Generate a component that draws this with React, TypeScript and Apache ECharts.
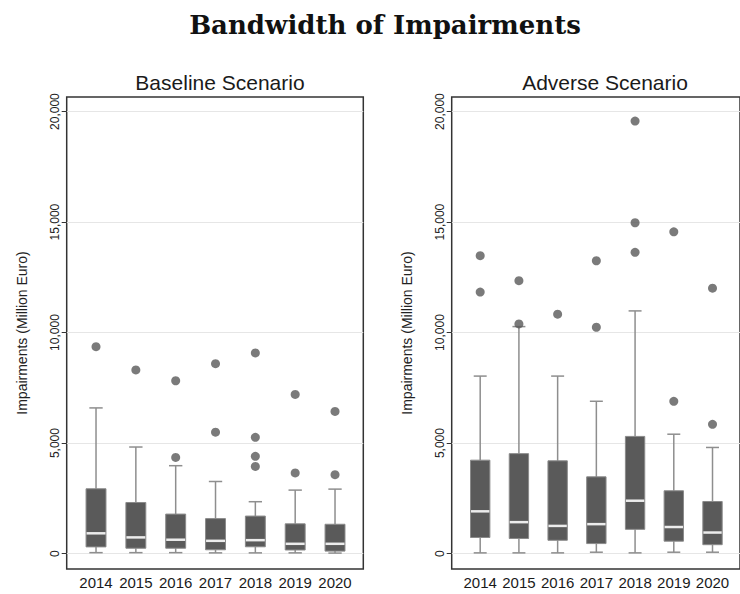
import React, { useEffect, useRef } from "react";
import * as echarts from "echarts";

const years = [2014, 2015, 2016, 2017, 2018, 2019, 2020];
const yTicks = [0, 5000, 10000, 15000, 20000];

// Baseline scenario
const baseLow = [40, 40, 40, 30, 30, 30, 20];
const baseQ1 = [300, 240, 240, 170, 305, 160, 110];
const baseMedian = [915, 730, 625, 575, 605, 440, 440];
const baseQ3 = [2930, 2310, 1785, 1580, 1695, 1345, 1325];
const baseHigh = [6590, 4820, 3975, 3260, 2345, 2870, 2915];
const baseOutliers: number[][] = [
  [9360],
  [8310],
  [7820, 4350],
  [8590, 5490],
  [9080, 5260, 4400, 3940],
  [7200, 3650],
  [6430, 3570],
];

// Adverse scenario
const advLow = [30, 30, 30, 60, 30, 60, 60];
const advQ1 = [725, 680, 600, 450, 1095, 560, 400];
const advMedian = [1910, 1420, 1250, 1330, 2390, 1200, 950];
const advQ3 = [4225, 4520, 4195, 3470, 5300, 2840, 2355];
const advHigh = [8030, 10270, 8030, 6890, 10980, 5400, 4800];
const advOutliers: number[][] = [
  [13480, 11830],
  [12350, 10390],
  [10830],
  [13250, 10240],
  [19570, 14970, 13630],
  [14560, 6890],
  [12010, 5845],
];

const BOX_W = 0.5;
const CAP_W = 0.335;

function boxData(lo: number[], q1: number[], md: number[], q3: number[], hi: number[]) {
  return years.map((y, i) => [y, lo[i], q1[i], md[i], q3[i], hi[i]]);
}
function outlierData(out: number[][]) {
  const res: number[][] = [];
  out.forEach((vals, i) => vals.forEach((v) => res.push([years[i], v])));
  return res;
}

const renderBox = (params: any, api: any) => {
  const x = api.value(0);
  const lo = api.coord([x, api.value(1)]);
  const q1 = api.coord([x, api.value(2)]);
  const md = api.coord([x, api.value(3)]);
  const q3 = api.coord([x, api.value(4)]);
  const hi = api.coord([x, api.value(5)]);
  const bw = api.size([BOX_W, 0])[0];
  const cw = api.size([CAP_W, 0])[0];
  const cx = lo[0];
  const ws = { stroke: "#8e8e8e", lineWidth: 1.5 };
  return {
    type: "group",
    children: [
      { type: "line", shape: { x1: cx, y1: hi[1], x2: cx, y2: q3[1] }, style: ws },
      { type: "line", shape: { x1: cx, y1: q1[1], x2: cx, y2: lo[1] }, style: ws },
      { type: "line", shape: { x1: cx - cw / 2, y1: hi[1], x2: cx + cw / 2, y2: hi[1] }, style: ws },
      { type: "line", shape: { x1: cx - cw / 2, y1: lo[1], x2: cx + cw / 2, y2: lo[1] }, style: ws },
      {
        type: "rect",
        shape: { x: cx - bw / 2, y: q3[1], width: bw, height: q1[1] - q3[1] },
        style: { fill: "#5a5a5a", stroke: "#8a8a8a", lineWidth: 1 },
      },
      {
        type: "line",
        shape: { x1: cx - bw / 2 + 0.5, y1: md[1], x2: cx + bw / 2 - 0.5, y2: md[1] },
        style: { stroke: "#ececec", lineWidth: 2.5 },
      },
    ],
  };
};

const SANS = "'Liberation Sans', Arial, sans-serif";

export default function App() {
  const ref = useRef<HTMLDivElement>(null);
  useEffect(() => {
    document.body.style.margin = "0";
    if (!ref.current) return;
    const chart = echarts.init(ref.current, null, { renderer: "svg" });

    const X_MIN = 2013.264;
    const X_MAX = 2020.71;
    const Y_MIN = -700;
    const Y_MAX = 20660;

    const mkX = (gi: number) => ({
      type: "value",
      gridIndex: gi,
      min: X_MIN,
      max: X_MAX,
      axisLine: { show: false },
      axisTick: { show: false },
      splitLine: { show: false },
      axisLabel: {
        customValues: years,
        formatter: (v: number) => String(Math.round(v)),
        fontFamily: SANS,
        fontSize: 15,
        color: "#1a1a1a",
        margin: 6,
      },
    });
    const mkY = (gi: number) => ({
      type: "value",
      gridIndex: gi,
      min: Y_MIN,
      max: Y_MAX,
      name: "Impairments (Million Euro)",
      nameLocation: "middle",
      nameRotate: 90,
      nameGap: 38,
      nameTextStyle: { fontFamily: SANS, fontSize: 14, color: "#222" },
      axisLine: { show: false },
      axisTick: { show: true, length: 5, customValues: yTicks, lineStyle: { color: "#333", width: 1 } },
      axisLabel: {
        customValues: yTicks,
        rotate: 90,
        margin: 6,
        fontFamily: SANS,
        fontSize: 12,
        color: "#222",
        formatter: (v: number) => v.toLocaleString("en-US"),
      },
      splitLine: { show: true, lineStyle: { color: "#e6e6e6", width: 1 } },
    });

    const option: any = {
      animation: false,
      backgroundColor: "#ffffff",
      title: [
        {
          text: "Bandwidth of Impairments",
          left: 380,
          top: 7,
          textAlign: "center",
          textStyle: { fontFamily: "'DejaVu Serif', serif", fontWeight: "bold", fontSize: 26, color: "#111" },
        },
        {
          text: "Baseline Scenario",
          left: 215,
          top: 67,
          textAlign: "center",
          textStyle: { fontFamily: SANS, fontWeight: "normal", fontSize: 21, color: "#1a1a1a" },
        },
        {
          text: "Adverse Scenario",
          left: 600,
          top: 67,
          textAlign: "center",
          textStyle: { fontFamily: SANS, fontWeight: "normal", fontSize: 21, color: "#1a1a1a" },
        },
      ],
      grid: [
        { left: 66.7, top: 97, width: 296.6, height: 472, show: true, borderColor: "#333", borderWidth: 1.5, backgroundColor: "transparent" },
        { left: 451.7, top: 97, width: 296.6, height: 472, show: true, borderColor: "#333", borderWidth: 1.5, backgroundColor: "transparent" },
      ],
      xAxis: [mkX(0), mkX(1)],
      yAxis: [mkY(0), mkY(1)],
      series: [
        {
          type: "custom",
          name: "Baseline",
          xAxisIndex: 0,
          yAxisIndex: 0,
          renderItem: renderBox,
          encode: { x: 0, y: [1, 2, 3, 4, 5] },
          data: boxData(baseLow, baseQ1, baseMedian, baseQ3, baseHigh),
          z: 2,
        },
        {
          type: "scatter",
          xAxisIndex: 0,
          yAxisIndex: 0,
          symbol: "circle",
          symbolSize: 9,
          itemStyle: { color: "#595959" },
          data: outlierData(baseOutliers),
          z: 3,
        },
        {
          type: "custom",
          name: "Adverse",
          xAxisIndex: 1,
          yAxisIndex: 1,
          renderItem: renderBox,
          encode: { x: 0, y: [1, 2, 3, 4, 5] },
          data: boxData(advLow, advQ1, advMedian, advQ3, advHigh),
          z: 2,
        },
        {
          type: "scatter",
          xAxisIndex: 1,
          yAxisIndex: 1,
          symbol: "circle",
          symbolSize: 9,
          itemStyle: { color: "#595959" },
          data: outlierData(advOutliers),
          z: 3,
        },
      ],
    };
    chart.setOption(option);
    return () => chart.dispose();
  }, []);
  return <div ref={ref} style={{ position: "absolute", left: 0, top: 0, width: 740, height: 594 }} />;
}
